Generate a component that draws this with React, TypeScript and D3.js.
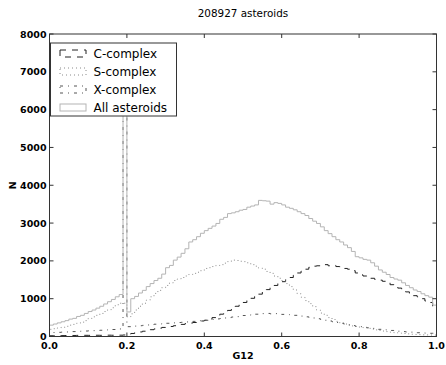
import React from "react";
import * as d3 from "d3";

// ---- data (100 bins of width 0.01 over G12 in [0, 1]) ----
const title = "208927 asteroids";
const binStart = 0;
const binEnd = 1;

const cComplex = [
  20, 22, 25, 24, 26, 28, 27, 30, 29, 31,
  30, 32, 33, 31, 34, 35, 33, 36, 35, 40,
  60, 80, 100, 120, 140, 160, 180, 200, 220, 240,
  250, 265, 285, 300, 320, 340, 355, 370, 390, 410,
  430, 460, 500, 540, 590, 640, 690, 745, 800, 850,
  900, 960, 1010, 1060, 1120, 1180, 1240, 1290, 1350, 1400,
  1450, 1500, 1560, 1620, 1680, 1730, 1780, 1830, 1860, 1870,
  1880, 1900, 1870, 1880, 1850, 1820, 1800, 1780, 1740, 1680,
  1630, 1600, 1570, 1540, 1510, 1490, 1460, 1420, 1370, 1320,
  1280, 1230, 1180, 1130, 1080, 1050, 1000, 940, 900, 760,
];

const sComplex = [
  190, 205, 225, 245, 270, 300, 320, 350, 380, 420,
  480, 520, 560, 610, 660, 710, 760, 840, 880, 880,
  520, 600, 700, 800, 880, 960, 1050, 1140, 1220, 1290,
  1350, 1420, 1480, 1520, 1560, 1600, 1640, 1670, 1700, 1740,
  1800, 1820, 1850, 1880, 1900, 1940, 1980, 2020, 2010, 1990,
  1980, 1950, 1900, 1860, 1810, 1780, 1720, 1670, 1600, 1540,
  1480, 1400, 1320, 1230, 1130, 1040, 950, 870, 790, 700,
  620, 560, 500, 450, 400, 360, 330, 300, 280, 265,
  250, 235, 215, 195, 175, 160, 145, 130, 115, 100,
  90, 80, 70, 60, 55, 50, 45, 42, 40, 38,
];

const xComplex = [
  100, 105, 110, 115, 120, 125, 130, 135, 140, 145,
  150, 155, 160, 165, 170, 180, 185, 190, 200, 6500,
  260, 265, 275, 285, 295, 305, 315, 325, 330, 340,
  350, 355, 360, 370, 375, 385, 390, 400, 410, 420,
  430, 440, 450, 465, 475, 490, 500, 515, 525, 540,
  555, 565, 580, 590, 600, 605, 610, 600, 605, 595,
  585, 580, 570, 560, 550, 540, 520, 505, 490, 470,
  450, 430, 410, 390, 370, 350, 330, 310, 290, 270,
  260, 245, 230, 215, 200, 190, 180, 170, 160, 150,
  140, 130, 120, 115, 110, 100, 95, 90, 85, 85,
];

const allAsteroids = [
  300, 330, 360, 390, 420, 460, 480, 530, 560, 610,
  660, 700, 750, 800, 860, 920, 980, 1050, 1110, 7400,
  650, 1000, 1060, 1150, 1220, 1320, 1400, 1480, 1540, 1650,
  1820, 1880, 2020, 2100, 2200, 2320, 2500, 2560, 2640, 2730,
  2800, 2860, 2920, 2990, 3100, 3150, 3250, 3270, 3300, 3340,
  3360, 3420, 3450, 3480, 3600, 3590, 3580, 3500, 3540, 3520,
  3480, 3420, 3390, 3350, 3300, 3250, 3200, 3120, 3050, 2990,
  2900, 2800, 2720, 2640, 2560, 2500, 2420, 2350, 2250, 2110,
  2080, 2040, 2020, 1950, 1860, 1760, 1700, 1640, 1560, 1520,
  1490, 1420, 1350, 1290, 1230, 1190, 1130, 1080, 1040, 830,
];

const seriesNames = ["C-complex", "S-complex", "X-complex", "All asteroids"];
const seriesValues = [cComplex, sComplex, xComplex, allAsteroids];

const xTicks = [0, 0.2, 0.4, 0.6, 0.8, 1.0];
const xTickLabels = ["0.0", "0.2", "0.4", "0.6", "0.8", "1.0"];
const yTicks = [0, 1000, 2000, 3000, 4000, 5000, 6000, 7000, 8000];
const yTickLabels = ["0", "1000", "2000", "3000", "4000", "5000", "6000", "7000", "8000"];
const xLabel = "G12";
const yLabel = "N";

// ---- styles ----
const styles = [
  { stroke: "#222", dash: "6,6" },
  { stroke: "#8a8a8a", dash: "1,3" },
  { stroke: "#555", dash: "3,5,1,5" },
  { stroke: "#b4b4b4", dash: "" },
];

const W = 446;
const H = 365;
const left = 49.5;
const right = 436.5;
const top = 34;
const bottom = 336.5;
const font = "'DejaVu Sans', sans-serif";

export default function App() {
  const x = d3.scaleLinear().domain([binStart, binEnd]).range([left, right]);
  const y = d3.scaleLinear().domain([0, 8000]).range([bottom, top]);

  const stepPath = (vals: number[]) => {
    const n = vals.length;
    const w = (binEnd - binStart) / n;
    const pts: [number, number][] = [[binStart, 0]];
    vals.forEach((v, i) => {
      pts.push([binStart + i * w, v]);
      pts.push([binStart + (i + 1) * w, v]);
    });
    pts.push([binEnd, 0]);
    return d3
      .line<[number, number]>()
      .x((d) => x(d[0]))
      .y((d) => y(d[1]))(pts) as string;
  };

  const legendX = 50.5;
  const legendY = 43;
  const legendW = 126;
  const legendH = 73;

  return (
    <svg
      width={W}
      height={H}
      style={{ position: "absolute", left: 0, top: 0, background: "#fff" }}
      fontFamily={font}
    >
      <defs>
        <clipPath id="plotclip">
          <rect x={left} y={top} width={right - left} height={bottom - top} />
        </clipPath>
      </defs>
      <rect x={0} y={0} width={W} height={H} fill="#fff" />
      <text x={(left + right) / 2} y={17} textAnchor="middle" fontSize={10.4} fill="#000">
        {title}
      </text>

      <g clipPath="url(#plotclip)">
        {seriesValues.map((vals, i) => (
          <path
            key={seriesNames[i]}
            d={stepPath(vals)}
            fill="none"
            stroke={styles[i].stroke}
            strokeWidth={1}
            strokeDasharray={styles[i].dash || undefined}
          />
        ))}
      </g>

      {/* frame */}
      <rect x={left} y={top} width={right - left} height={bottom - top} fill="none" stroke="#333" strokeWidth={1} />

      {/* ticks */}
      {xTicks.map((t, i) => (
        <g key={"xt" + i}>
          <line x1={x(t)} x2={x(t)} y1={bottom} y2={bottom - 4} stroke="#333" />
          <line x1={x(t)} x2={x(t)} y1={top} y2={top + 4} stroke="#333" />
          <text x={x(t)} y={349} textAnchor="middle" fontSize={9.5} fontWeight="bold" fill="#000">
            {xTickLabels[i]}
          </text>
        </g>
      ))}
      {yTicks.map((t, i) => (
        <g key={"yt" + i}>
          <line x1={left} x2={left + 4} y1={y(t)} y2={y(t)} stroke="#333" />
          <line x1={right} x2={right - 4} y1={y(t)} y2={y(t)} stroke="#333" />
          <text x={left - 3} y={y(t) + 3.5} textAnchor="end" fontSize={9.5} fontWeight="bold" fill="#000">
            {yTickLabels[i]}
          </text>
        </g>
      ))}

      <text x={(left + right) / 2} y={359} textAnchor="middle" fontSize={9.5} fontWeight="bold" fill="#000">
        {xLabel}
      </text>
      <text
        transform={`translate(16, ${(top + bottom) / 2}) rotate(-90)`}
        textAnchor="middle"
        fontSize={9.5}
        fontWeight="bold"
        fill="#000"
      >
        {yLabel}
      </text>

      {/* legend */}
      <rect x={legendX} y={legendY} width={legendW} height={legendH} fill="#fff" stroke="#333" strokeWidth={1} />
      {seriesNames.map((name, i) => {
        const cy = legendY + 10.5 + i * 18;
        return (
          <g key={"lg" + i}>
            <rect
              x={legendX + 9.5}
              y={cy - 3.5}
              width={26}
              height={7}
              fill="none"
              stroke={styles[i].stroke}
              strokeWidth={1}
              strokeDasharray={styles[i].dash || undefined}
            />
            <text x={legendX + 43} y={cy + 4.3} fontSize={12} fill="#000">
              {name}
            </text>
          </g>
        );
      })}
    </svg>
  );
}
